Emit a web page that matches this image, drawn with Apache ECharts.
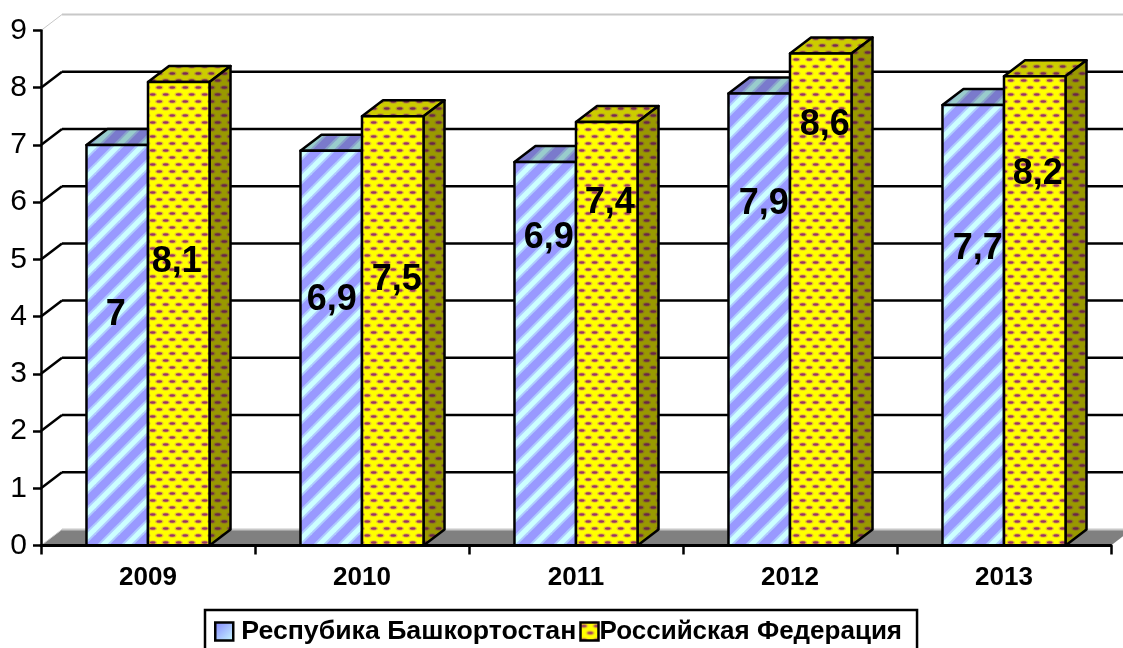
<!DOCTYPE html>
<html>
<head>
<meta charset="utf-8">
<style>
  html, body { margin: 0; padding: 0; background: #fff; }
  #chart { width: 1123px; height: 648px; }
</style>
<script src="https://cdn.jsdelivr.net/npm/echarts@6/dist/echarts.min.js"></script>
</head>
<body>
<div id="chart"></div>
<script>
const years = ['2009', '2010', '2011', '2012', '2013']
const yTicks = [0, 1, 2, 3, 4, 5, 6, 7, 8, 9]
const bashkortostan = [7, 6.9, 6.7, 7.9, 7.7]
const russia = [8.1, 7.5, 7.4, 8.6, 8.2]
const bashkortostanLabels = ['7', '6,9', '6,9', '7,9', '7,7']
const russiaLabels = ['8,1', '7,5', '7,4', '8,6', '8,2']

// hand-moved data labels in the original: shift from the middle of the bar
const bashkortostanShift = [[-1.5, -30], [0.5, -48], [3.5, -116], [4.5, -115], [4.5, -76]]
const russiaShift = [[-2, -52], [4, -51], [3, -131], [4, -174], [3, -137]]

const DEPTH_X = 21
const DEPTH_Y = 16

function tile (w, h, draw) {
  const c = document.createElement('canvas')
  c.width = w
  c.height = h
  draw(c.getContext('2d'))
  return { image: c, repeat: 'repeat' }
}

function stripes (base, soft, light) {
  return tile(24, 24, ctx => {
    ctx.fillStyle = base
    ctx.fillRect(0, 0, 24, 24)
    const bands = [[soft, 9], [light, 5]]
    bands.forEach(b => {
      ctx.strokeStyle = b[0]
      ctx.lineWidth = b[1]
      for (let i = -24; i <= 48; i += 24) {
        ctx.beginPath()
        ctx.moveTo(i - 4, 28)
        ctx.lineTo(i + 28, -4)
        ctx.stroke()
      }
    })
  })
}

function dots (base, halo, dot) {
  return tile(13, 14, ctx => {
    ctx.fillStyle = base
    ctx.fillRect(0, 0, 13, 14)
    const spots = [[3.25, 3.5], [9.75, 10.5], [-3.25, 10.5], [16.25, 3.5]]
    spots.forEach(p => {
      ctx.fillStyle = halo
      ctx.beginPath()
      ctx.ellipse(p[0], p[1], 4.2, 2.2, 0, 0, Math.PI * 2)
      ctx.fill()
      ctx.fillStyle = dot
      ctx.beginPath()
      ctx.ellipse(p[0], p[1], 2.9, 1.3, 0, 0, Math.PI * 2)
      ctx.fill()
    })
  })
}

const bluePattern = {
  front: stripes('#9999ff', '#b0ccff', '#ccffff'),
  top: stripes('#7a7acc', '#8aa3cc', '#99cccc'),
  side: stripes('#7a7acc', '#8aa3cc', '#99cccc')
}
const yellowPattern = {
  front: dots('#ffff00', '#e6c030', '#993366'),
  top: dots('#cccc00', '#b89a28', '#7a2952'),
  side: dots('#999900', '#8a7420', '#6a2448')
}

function barRenderer (side, pattern, labels, shifts) {
  return function (params, api) {
    const i = api.value(0)
    const base = api.coord([i, 0])
    const top = api.coord([i, api.value(1)])
    const w = api.size([1, 0])[0] * 0.2875
    const x0 = side < 0 ? base[0] - w : base[0]
    const x1 = x0 + w
    const line = { stroke: '#000', lineWidth: 2.5, lineJoin: 'round' }
    const shift = shifts[i]
    return {
      type: 'group',
      children: [
        {
          type: 'polygon',
          shape: { points: [[x0, top[1]], [x0 + DEPTH_X, top[1] - DEPTH_Y], [x1 + DEPTH_X, top[1] - DEPTH_Y], [x1, top[1]]] },
          style: Object.assign({ fill: pattern.top }, line)
        },
        {
          type: 'polygon',
          shape: { points: [[x1, top[1]], [x1 + DEPTH_X, top[1] - DEPTH_Y], [x1 + DEPTH_X, base[1] - DEPTH_Y], [x1, base[1]]] },
          style: Object.assign({ fill: pattern.side }, line)
        },
        {
          type: 'rect',
          shape: { x: x0, y: top[1], width: w, height: base[1] - top[1] },
          style: Object.assign({ fill: pattern.front }, line)
        },
        {
          type: 'text',
          z2: 100,
          x: (x0 + x1) / 2 + shift[0],
          y: (top[1] + base[1]) / 2 + shift[1],
          style: {
            text: labels[i],
            fill: '#000',
            font: 'bold 36px "Liberation Sans"',
            align: 'center',
            verticalAlign: 'middle'
          }
        }
      ]
    }
  }
}

function wallRenderer (params, api) {
  const sys = params.coordSys
  const v = api.value(1)
  const y = api.coord([0, v])[1]
  const edge = v === 0 || v === 9
  const color = edge ? '#c8c8c8' : '#000'
  const left = sys.x
  const right = sys.x + sys.width
  const children = []
  if (v === 0) {
    children.push({
      type: 'polygon',
      shape: { points: [[left, y], [left + DEPTH_X, y - DEPTH_Y], [right + DEPTH_X, y - DEPTH_Y], [right, y]] },
      style: { fill: '#808080' }
    })
  }
  children.push({
    type: 'line',
    shape: { x1: left, y1: y, x2: left + DEPTH_X, y2: y - DEPTH_Y },
    style: { stroke: color, lineWidth: edge ? 1 : 2.5 }
  })
  children.push({
    type: 'line',
    shape: { x1: left + DEPTH_X, y1: y - DEPTH_Y, x2: right + DEPTH_X, y2: y - DEPTH_Y },
    style: { stroke: color, lineWidth: edge ? 2 : 2.5 }
  })
  return { type: 'group', children: children }
}

const swatchBlue = {
  type: 'linear', x: 0, y: 0, x2: 1, y2: 1,
  colorStops: [{ offset: 0, color: '#8080ff' }, { offset: 1, color: '#ccffff' }]
}

const myChart = echarts.init(document.getElementById('chart'), null, { renderer: 'canvas' })
myChart.setOption({
  animation: false,
  backgroundColor: '#fff',
  textStyle: { fontFamily: 'Liberation Sans' },
  grid: { left: 41, right: 12, top: 30.5, bottom: 102.5 },
  xAxis: {
    type: 'category',
    data: years,
    z: 5,
    axisLine: { lineStyle: { color: '#000', width: 3 } },
    axisTick: { show: true, length: 9, lineStyle: { color: '#000', width: 2.5 } },
    axisLabel: { color: '#000', fontWeight: 'bold', fontSize: 26, margin: 19 }
  },
  yAxis: {
    type: 'value',
    min: 0,
    max: 9,
    interval: 1,
    z: 5,
    splitLine: { show: false },
    axisLine: { show: true, lineStyle: { color: '#000', width: 2.5 } },
    axisTick: { show: true, length: 8, lineStyle: { color: '#000', width: 2.5 } },
    axisLabel: { color: '#000', fontSize: 30, margin: 14 }
  },
  legend: {
    left: 205,
    top: 610,
    padding: [8, 15, 17, 9],
    itemWidth: 18,
    itemHeight: 18,
    itemGap: 3,
    borderColor: '#000',
    borderWidth: 2.5,
    textStyle: { color: '#000', fontWeight: 'bold', fontSize: 26.7, padding: [0, 0, 0, 3] },
    data: [
      { name: 'Респубика Башкортостан', icon: 'rect', itemStyle: { color: swatchBlue, borderColor: '#000', borderWidth: 2.5 } },
      {
        name: 'Российская Федерация',
        icon: 'rect',
        itemStyle: { color: yellowPattern.front, borderColor: '#000', borderWidth: 2.5 },
        textStyle: { fontSize: 26, padding: [0, 0, 0, -4] }
      }
    ]
  },
  series: [
    {
      type: 'custom',
      name: 'wall',
      silent: true,
      renderItem: wallRenderer,
      data: yTicks.map(v => [0, v])
    },
    {
      type: 'custom',
      name: 'Респубика Башкортостан',
      renderItem: barRenderer(-1, bluePattern, bashkortostanLabels, bashkortostanShift),
      data: bashkortostan.map((v, i) => [i, v])
    },
    {
      type: 'custom',
      name: 'Российская Федерация',
      renderItem: barRenderer(1, yellowPattern, russiaLabels, russiaShift),
      data: russia.map((v, i) => [i, v])
    }
  ]
})
</script>
</body>
</html>
